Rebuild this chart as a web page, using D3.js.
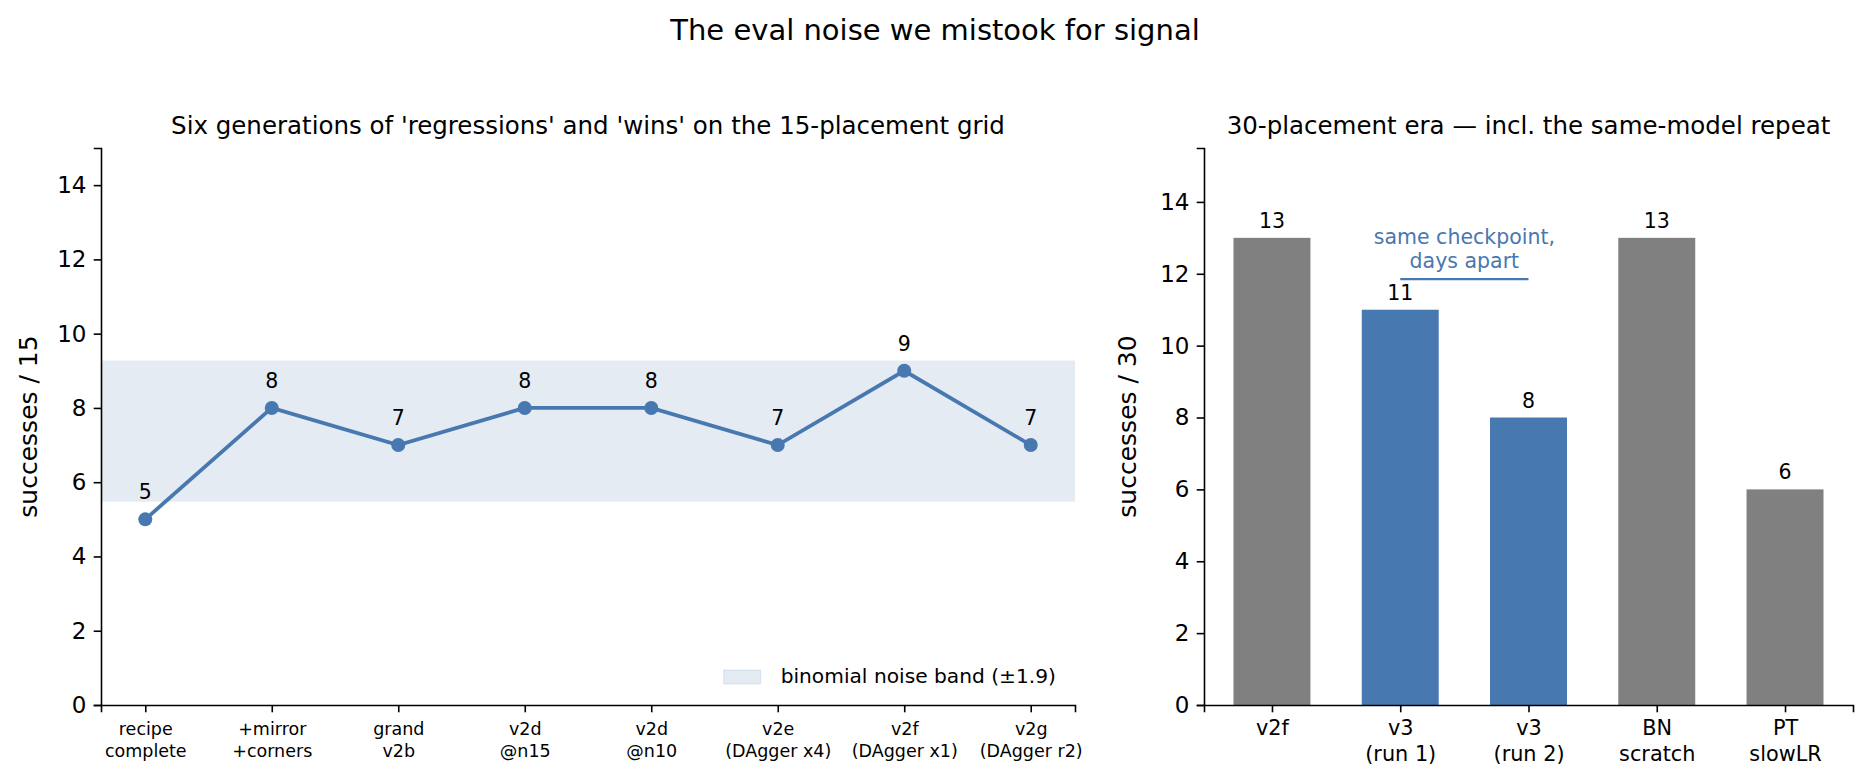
<!DOCTYPE html>
<html>
<head>
<meta charset="utf-8">
<script src="https://cdn.jsdelivr.net/npm/d3@7"></script>
<style>
  body { margin: 0; background: #fff; }
  svg { font-family: "DejaVu Sans", sans-serif; }
</style>
</head>
<body>
<svg id="chart" width="1870" height="782"></svg>
<script>
// left panel: 15-placement grid
const genLabels = ["recipe\ncomplete", "+mirror\n+corners", "grand\nv2b", "v2d\n@n15", "v2d\n@n10",
                   "v2e\n(DAgger x4)", "v2f\n(DAgger x1)", "v2g\n(DAgger r2)"];
const genScores = [5, 8, 7, 8, 8, 7, 9, 7];
const noiseHalf = 1.9;

// right panel: 30-placement era
const eraLabels = ["v2f", "v3\n(run 1)", "v3\n(run 2)", "BN\nscratch", "PT\nslowLR"];
const eraScores = [13, 11, 8, 13, 6];
const eraRepeat = [false, true, true, false, false];

const yTicks = [0, 2, 4, 6, 8, 10, 12, 14];

const blue = "#4878b0", gray = "#808080";
const svg = d3.select("#chart");

svg.append("text")
  .attr("x", 935).attr("y", 40)
  .attr("text-anchor", "middle")
  .attr("font-size", 29)
  .text("The eval noise we mistook for signal");

function multiLabels(g, labels, size, lh, first) {
  g.selectAll(".tick text").each(function(d, i) {
    const t = d3.select(this);
    t.text(null).attr("font-size", size).attr("fill", "#000");
    labels[i].split("\n").forEach((line, k) => {
      t.append("tspan").attr("x", 0).attr("dy", k === 0 ? first : lh).text(line);
    });
  });
}

function styleAxis(g) {
  g.selectAll("path.domain").attr("stroke", "#000").attr("stroke-width", 1.6);
  g.selectAll(".tick line").attr("stroke", "#000").attr("stroke-width", 1.6);
  g.attr("font-family", "DejaVu Sans");
}

// ---------- left panel ----------
const L = { left: 101, right: 1075, top: 148, bottom: 705 };
const xL = d3.scaleLinear().domain([-0.35, 7.35]).range([L.left, L.right]);
const yL = d3.scaleLinear().domain([0, 15]).range([L.bottom, L.top]);
const mean = d3.mean(genScores);

const left = svg.append("g");

left.append("rect")
  .attr("x", L.left).attr("width", L.right - L.left)
  .attr("y", yL(mean + noiseHalf))
  .attr("height", yL(mean - noiseHalf) - yL(mean + noiseHalf))
  .attr("fill", blue).attr("fill-opacity", 0.15);

const gxL = left.append("g")
  .attr("transform", `translate(0,${L.bottom})`)
  .call(d3.axisBottom(xL).tickValues(d3.range(genScores.length)).tickSizeOuter(0).tickSize(7.3).tickPadding(7.3));
styleAxis(gxL);
multiLabels(gxL, genLabels, 17.5, 21.5, "0.9em");

const gyL = left.append("g")
  .attr("transform", `translate(${L.left},0)`)
  .call(d3.axisLeft(yL).tickValues(yTicks).tickSizeOuter(0).tickSize(7.3).tickPadding(7.3));
styleAxis(gyL);
gyL.selectAll(".tick text").attr("font-size", 23).attr("fill", "#000");

left.append("path")
  .datum(genScores)
  .attr("fill", "none").attr("stroke", blue).attr("stroke-width", 3.8)
  .attr("d", d3.line().x((d, i) => xL(i)).y(d => yL(d)));

left.selectAll("circle")
  .data(genScores).join("circle")
  .attr("cx", (d, i) => xL(i)).attr("cy", d => yL(d))
  .attr("r", 7).attr("fill", blue);

left.selectAll("text.val")
  .data(genScores).join("text")
  .attr("class", "val")
  .attr("x", (d, i) => xL(i)).attr("y", d => yL(d) - 20)
  .attr("text-anchor", "middle").attr("font-size", 20.5)
  .text(d => d);

left.append("text")
  .attr("x", (L.left + L.right) / 2).attr("y", 134)
  .attr("text-anchor", "middle").attr("font-size", 24.5)
  .text("Six generations of 'regressions' and 'wins' on the 15-placement grid");

left.append("text")
  .attr("transform", `translate(37,${(L.top + L.bottom) / 2}) rotate(-90)`)
  .attr("text-anchor", "middle").attr("font-size", 25)
  .text("successes / 15");

// legend, right-aligned inside the lower right corner
const lg = left.append("g");
const lgText = lg.append("text").attr("font-size", 20.2)
  .attr("text-anchor", "end")
  .attr("x", L.right - 19).attr("y", 683)
  .text(`binomial noise band (\u00b1${noiseHalf})`);
const tw = lgText.node().getComputedTextLength();
lg.append("rect")
  .attr("x", L.right - 19 - tw - 20 - 37).attr("y", 670)
  .attr("width", 37).attr("height", 14)
  .attr("fill", blue).attr("fill-opacity", 0.15)
  .attr("stroke", blue).attr("stroke-opacity", 0.15);

// ---------- right panel ----------
const R = { left: 1204, right: 1853, top: 148, bottom: 705 };
const xR = d3.scaleLinear().domain([-0.53, eraScores.length - 1 + 0.53]).range([R.left, R.right]);
const yR = d3.scaleLinear().domain([0, 15.5]).range([R.bottom, R.top]);
const bw = xR(0.6) - xR(0);

const right = svg.append("g");

right.selectAll("rect.bar")
  .data(eraScores).join("rect")
  .attr("class", "bar")
  .attr("x", (d, i) => xR(i) - bw / 2).attr("width", bw)
  .attr("y", d => yR(d)).attr("height", d => yR(0) - yR(d))
  .attr("fill", (d, i) => eraRepeat[i] ? blue : gray);

right.selectAll("text.val")
  .data(eraScores).join("text")
  .attr("class", "val")
  .attr("x", (d, i) => xR(i)).attr("y", d => yR(d) - 10)
  .attr("text-anchor", "middle").attr("font-size", 20.5)
  .text(d => d);

const gxR = right.append("g")
  .attr("transform", `translate(0,${R.bottom})`)
  .call(d3.axisBottom(xR).tickValues(d3.range(eraScores.length)).tickSizeOuter(0).tickSize(7.3).tickPadding(7.3));
styleAxis(gxR);
multiLabels(gxR, eraLabels, 20.8, 26, "0.76em");

const gyR = right.append("g")
  .attr("transform", `translate(${R.left},0)`)
  .call(d3.axisLeft(yR).tickValues(yTicks).tickSizeOuter(0).tickSize(7.3).tickPadding(7.3));
styleAxis(gyR);
gyR.selectAll(".tick text").attr("font-size", 23).attr("fill", "#000");

// same-checkpoint bracket between the two v3 runs
const rep = d3.range(eraScores.length).filter(i => eraRepeat[i]);
const noteX = xR((rep[0] + rep[1]) / 2);
right.append("line")
  .attr("x1", xR(rep[0])).attr("x2", xR(rep[1]))
  .attr("y1", yR(11.85)).attr("y2", yR(11.85))
  .attr("stroke", blue).attr("stroke-width", 2.4);
const note = right.append("text")
  .attr("x", noteX).attr("y", yR(13) + 6)
  .attr("text-anchor", "middle").attr("font-size", 20.5).attr("fill", blue);
note.append("tspan").attr("x", noteX).text("same checkpoint,");
note.append("tspan").attr("x", noteX).attr("dy", 24).text("days apart");

right.append("text")
  .attr("x", (R.left + R.right) / 2).attr("y", 134)
  .attr("text-anchor", "middle").attr("font-size", 24.5)
  .text("30-placement era \u2014 incl. the same-model repeat");

right.append("text")
  .attr("transform", `translate(${R.left - 68},${(R.top + R.bottom) / 2}) rotate(-90)`)
  .attr("text-anchor", "middle").attr("font-size", 25)
  .text("successes / 30");
</script>
</body>
</html>
